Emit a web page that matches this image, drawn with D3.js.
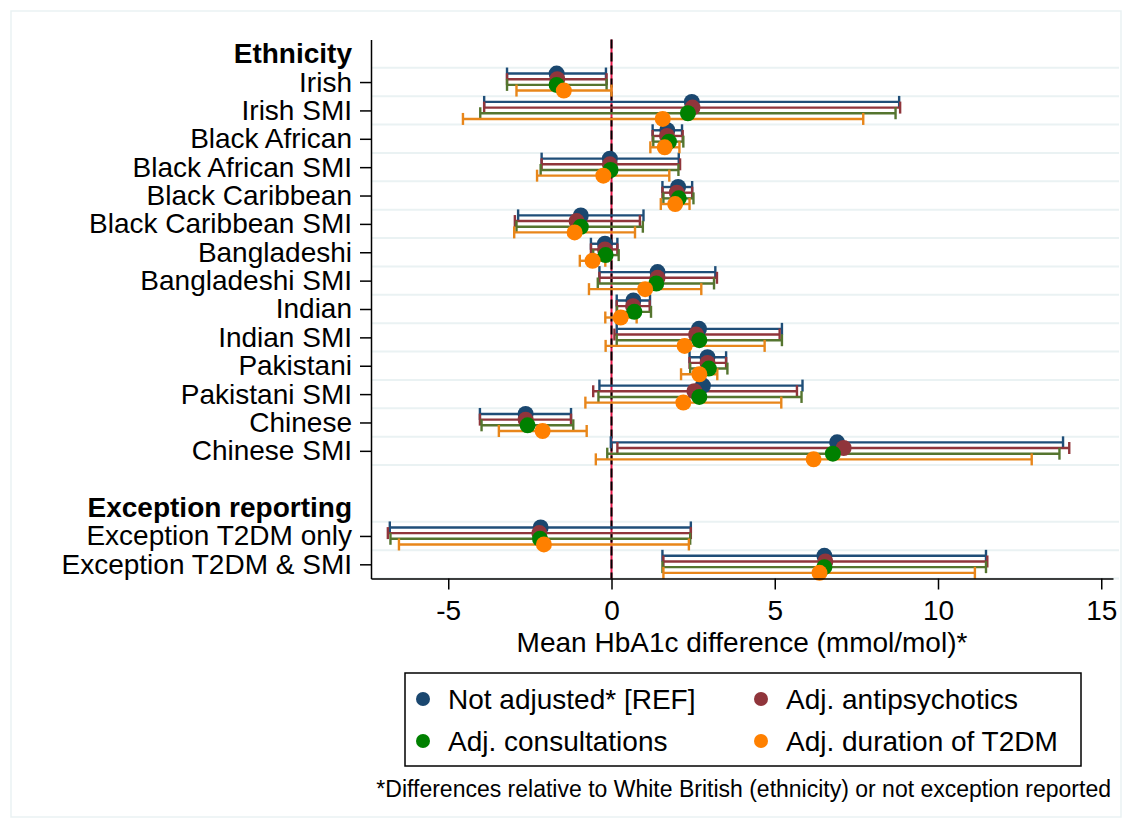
<!DOCTYPE html>
<html>
<head>
<meta charset="utf-8">
<script src="https://cdn.jsdelivr.net/npm/d3@7"></script>
<style>
  body { margin: 0; background: #fff; }
  svg { font-family: "Liberation Sans", Arial, sans-serif; }
</style>
</head>
<body>
<svg id="chart" width="1132" height="828"></svg>
<script>
// row layout of the y axis (blank string = spacer row)
const rowLabels = ["Ethnicity", "Irish", "Irish SMI", "Black African", "Black African SMI",
  "Black Caribbean", "Black Caribbean SMI", "Bangladeshi", "Bangladeshi SMI", "Indian",
  "Indian SMI", "Pakistani", "Pakistani SMI", "Chinese", "Chinese SMI", "",
  "Exception reporting", "Exception T2DM only", "Exception T2DM & SMI"];
const headerRows = ["Ethnicity", "Exception reporting"];
const groups = ["Irish", "Irish SMI", "Black African", "Black African SMI",
  "Black Caribbean", "Black Caribbean SMI", "Bangladeshi", "Bangladeshi SMI", "Indian",
  "Indian SMI", "Pakistani", "Pakistani SMI", "Chinese", "Chinese SMI",
  "Exception T2DM only", "Exception T2DM & SMI"];

const seriesNames = ["Not adjusted* [REF]", "Adj. antipsychotics", "Adj. consultations", "Adj. duration of T2DM"];
const xTicks = [-5, 0, 5, 10, 15];

// estimates and 95% CI, one value per group
const notAdjEst = [-1.68, 2.46, 1.71, -0.05, 2.04, -0.94, -0.20, 1.41, 0.67, 2.68, 2.94, 2.80, -2.63, 6.91, -2.17, 6.52];
const notAdjLo  = [-3.20, -3.90, 1.26, -2.14, 1.56, -2.86, -0.63, -0.37, 0.16, 0.16, 2.39, -0.37, -4.03, -0.02, -6.79, 1.56];
const notAdjHi  = [-0.17, 8.81, 2.16, 2.06, 2.47, 0.98, 0.18, 3.18, 1.18, 5.22, 3.51, 5.85, -1.24, 13.83, 2.43, 11.47];

const antipsyEst = [-1.66, 2.48, 1.70, -0.05, 2.00, -1.07, -0.20, 1.41, 0.66, 2.59, 2.94, 2.54, -2.63, 7.11, -2.21, 6.55];
const antipsyLo  = [-3.20, -3.90, 1.26, -2.14, 1.56, -2.96, -0.63, -0.37, 0.16, 0.09, 2.39, -0.56, -4.03, 0.18, -6.85, 1.59];
const antipsyHi  = [-0.15, 8.84, 2.18, 2.10, 2.47, 0.87, 0.18, 3.23, 1.17, 5.15, 3.51, 5.68, -1.24, 14.02, 2.43, 11.51];

const consultEst = [-1.68, 2.34, 1.76, -0.03, 2.06, -0.94, -0.18, 1.37, 0.70, 2.69, 2.98, 2.69, -2.57, 6.78, -2.19, 6.52];
const consultLo  = [-3.20, -4.02, 1.28, -2.17, 1.59, -2.91, -0.56, -0.42, 0.17, 0.16, 2.41, -0.40, -3.98, -0.13, -6.77, 1.56];
const consultHi  = [-0.15, 8.70, 2.20, 2.05, 2.51, 0.96, 0.22, 3.14, 1.21, 5.22, 3.55, 5.82, -1.17, 13.72, 2.41, 11.47];

const durationEst = [-1.46, 1.57, 1.63, -0.25, 1.95, -1.13, -0.58, 1.03, 0.28, 2.24, 2.69, 2.20, -2.11, 6.19, -2.07, 6.37];
const durationLo  = [-2.91, -4.55, 1.19, -2.28, 1.51, -2.98, -0.97, -0.69, -0.19, -0.18, 2.13, -0.80, -3.45, -0.48, -6.51, 1.59];
const durationHi  = [0.00, 7.71, 2.08, 1.77, 2.39, 0.72, -0.19, 2.75, 0.77, 4.69, 3.24, 5.20, -0.76, 12.87, 2.37, 11.13];

const markerColors = ["#1a476f", "#90353b", "#008000", "#ff8000"];
const lineColors = ["#1f4e78", "#90353b", "#55752f", "#e8861a"];
const offsets = [-0.3, -0.1, 0.1, 0.3];

const series = [
  { est: notAdjEst, lo: notAdjLo, hi: notAdjHi },
  { est: antipsyEst, lo: antipsyLo, hi: antipsyHi },
  { est: consultEst, lo: consultLo, hi: consultHi },
  { est: durationEst, lo: durationLo, hi: durationHi }
];

const svg = d3.select("#chart");
const fs = 28;

// outer frame
svg.append("rect").attr("x", 11).attr("y", 11).attr("width", 1110).attr("height", 806)
  .attr("fill", "#fff").attr("stroke", "#eaf2f3").attr("stroke-width", 1.5);

const plotL = 371, plotR = 1113, plotT = 39.5, plotB = 578.5;
const zeroX = 611.5, pxPerUnit = 32.65;

const x = d3.scaleLinear()
  .domain([(plotL - zeroX) / pxPerUnit, (plotR - zeroX) / pxPerUnit])
  .range([plotL, plotR]);

const y = d3.scaleLinear().domain([-0.5, rowLabels.length - 0.5]).range([plotT, plotB]);

const rowIndex = g => rowLabels.indexOf(g);

// grid lines bounding each data row
const gridYs = new Set();
groups.forEach(g => { gridYs.add(rowIndex(g) - 0.5); gridYs.add(rowIndex(g) + 0.5); });
svg.append("g").selectAll("line").data([...gridYs]).enter().append("line")
  .attr("x1", plotL).attr("x2", 1119)
  .attr("y1", d => y(d)).attr("y2", d => y(d))
  .attr("stroke", "#eaf2f3").attr("stroke-width", 2);

// reference line at zero
svg.append("line").attr("x1", x(0)).attr("x2", x(0)).attr("y1", plotT).attr("y2", plotB)
  .attr("stroke", "#e8174a").attr("stroke-width", 2);
svg.append("line").attr("x1", x(0)).attr("x2", x(0)).attr("y1", plotT).attr("y2", plotB)
  .attr("stroke", "#000").attr("stroke-width", 2).attr("stroke-dasharray", "9,4");

// confidence intervals
const capH = 6;
series.forEach((s, k) => {
  const g = svg.append("g").attr("stroke", lineColors[k]).attr("stroke-width", 2.4);
  groups.forEach((name, i) => {
    const yy = y(rowIndex(name) + offsets[k]);
    g.append("line").attr("x1", x(s.lo[i])).attr("x2", x(s.hi[i])).attr("y1", yy).attr("y2", yy);
    g.append("line").attr("x1", x(s.lo[i])).attr("x2", x(s.lo[i])).attr("y1", yy - capH).attr("y2", yy + capH);
    g.append("line").attr("x1", x(s.hi[i])).attr("x2", x(s.hi[i])).attr("y1", yy - capH).attr("y2", yy + capH);
  });
});

// point estimates
series.forEach((s, k) => {
  svg.append("g").selectAll("circle").data(groups).enter().append("circle")
    .attr("cx", (d, i) => x(s.est[i]))
    .attr("cy", d => y(rowIndex(d) + offsets[k]))
    .attr("r", 8)
    .attr("fill", markerColors[k]);
});

// y axis
const yAxis = svg.append("g").attr("transform", `translate(${plotL},0)`)
  .call(d3.axisLeft(y).tickValues(groups.map(rowIndex)).tickFormat(i => rowLabels[i])
    .tickSize(11).tickSizeOuter(0).tickPadding(8));
yAxis.selectAll("text").attr("font-size", fs).attr("fill", "#000")
  .attr("font-family", "'Liberation Sans', Arial, sans-serif");
yAxis.selectAll("line, path").attr("stroke", "#000").attr("stroke-width", 1.5);

svg.append("g").selectAll("text").data(headerRows).enter().append("text")
  .attr("x", plotL - 19).attr("y", d => y(rowIndex(d)))
  .attr("dy", "0.32em").attr("text-anchor", "end")
  .attr("font-size", fs).attr("font-weight", "bold").text(d => d);

// x axis
const xAxis = svg.append("g").attr("transform", `translate(0,${plotB})`)
  .call(d3.axisBottom(x).tickValues(xTicks).tickFormat(d3.format("d"))
    .tickSize(11).tickSizeOuter(0).tickPadding(11));
xAxis.selectAll("text").attr("font-size", fs).attr("fill", "#000")
  .attr("font-family", "'Liberation Sans', Arial, sans-serif")
  .text(d => d < 0 ? "-" + Math.abs(d) : d);
xAxis.selectAll("line, path").attr("stroke", "#000").attr("stroke-width", 1.5);

svg.append("text").attr("x", (plotL + plotR) / 2).attr("y", 652).attr("text-anchor", "middle")
  .attr("font-size", fs).text("Mean HbA1c difference (mmol/mol)*");

// legend
const lg = svg.append("g");
lg.append("rect").attr("x", 405).attr("y", 673).attr("width", 676).attr("height", 93)
  .attr("fill", "#fff").attr("stroke", "#000").attr("stroke-width", 1.5);
const legendPos = [[423, 699], [761, 699], [423, 741], [761, 741]];
seriesNames.forEach((name, k) => {
  lg.append("circle").attr("cx", legendPos[k][0]).attr("cy", legendPos[k][1]).attr("r", 7)
    .attr("fill", markerColors[k]);
  lg.append("text").attr("x", legendPos[k][0] + 25).attr("y", legendPos[k][1])
    .attr("dy", "0.35em").attr("font-size", fs).text(name);
});

// footnote
svg.append("text").attr("x", 1111).attr("y", 797).attr("text-anchor", "end")
  .attr("font-size", 23).text("*Differences relative to White British (ethnicity) or not exception reported");
</script>
</body>
</html>
